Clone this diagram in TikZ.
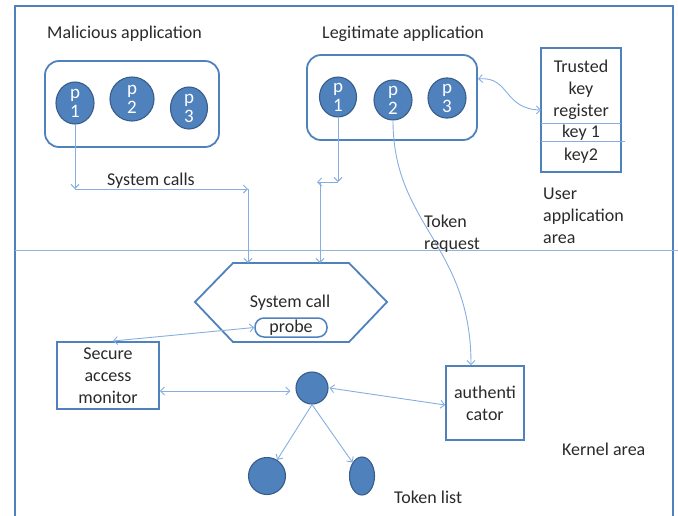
\documentclass[tikz,border=0pt]{standalone}
\usepackage{fontspec}
\setmainfont{Carlito}
\usetikzlibrary{arrows.meta,shapes.geometric}
\definecolor{cfill}{HTML}{4F81BD}
\definecolor{cborder}{HTML}{385D8A}
\definecolor{boxline}{HTML}{4F81BD}
\definecolor{connc}{HTML}{86AEE0}
\definecolor{divc}{HTML}{95B3D7}
\definecolor{txt}{HTML}{2A2A2A}
\tikzset{
  every node/.style={text=txt,font=\fontsize{18}{22}\selectfont},
  proc/.style={ellipse,fill=cfill,draw=cborder,line width=1.1pt,inner sep=0pt,
    text=white,align=center,font=\fontsize{19}{19}\selectfont},
  appbox/.style={draw=boxline,line width=1.8pt,rounded corners=14pt},
  sqbox/.style={draw=boxline,line width=1.8pt,align=center,inner sep=0pt},
  conn/.style={draw=connc,line width=0.9pt},
  tip/.style={-{Straight Barb[length=4pt,width=8pt]}},
  dtip/.style={{Straight Barb[length=4pt,width=8pt]}-{Straight Barb[length=4pt,width=8pt]}},
  lbl/.style={inner sep=0pt,align=left}
}
\begin{document}
\begin{tikzpicture}[x=1pt,y=-1pt]
\useasboundingbox (0,0) rectangle (678,515);
% frame and divider
\draw[draw=boxline,line width=1.8pt] (15,6) rectangle (673,530);
\draw[draw=divc,line width=1pt] (15,250) -- (678,250);

% application boxes
\node[appbox,minimum width=174pt,minimum height=86pt] (mal) at (132,104) {};
\node[appbox,minimum width=170pt,minimum height=85pt] (leg) at (392,97.5) {};
\node[lbl,anchor=west] (maltxt) at (47,34) {Malicious application};
\node[lbl,anchor=west] (legtxt) at (322,34) {Legitimate application};

% processes
\node[proc,minimum width=38pt,minimum height=42pt] (mp1) at (75,103) {p\\1};
\node[proc,minimum width=44pt,minimum height=44pt] (mp2) at (132,99) {p\\2};
\node[proc,minimum width=37pt,minimum height=42pt] (mp3) at (189,108) {p\\3};
\node[proc,minimum width=37pt,minimum height=38pt] (lp1) at (338,97) {p\\1};
\node[proc,minimum width=38pt,minimum height=35pt] (lp2) at (393,100) {p\\2};
\node[proc,minimum width=38pt,minimum height=37pt] (lp3) at (447,98) {p\\3};

% trusted key register
\node[sqbox,minimum width=80pt,minimum height=124pt] (tkr) at (581,110) {};
\draw[conn] (541,123) -- (621,123);
\draw[conn] (541,141) -- (625,141);
\node[inner sep=0pt,align=center] (tkrtxt) at (581,90) {Trusted\\key\\register};
\node[inner sep=0pt] (k1) at (581,133) {key 1};
\node[inner sep=0pt] (k2) at (581,156) {key2};
\draw[conn,dtip] (478,79) .. controls (510,76) and (503,109) .. (541,110);
\node[lbl,anchor=west] (uaa) at (543,216) {User\\application\\area};

% hexagon
\coordinate (h1) at (195,302);
\coordinate (h2) at (233,263);
\coordinate (h3) at (349,263);
\coordinate (h4) at (387,302);
\coordinate (h5) at (349,342);
\coordinate (h6) at (233,342);
\draw[draw=boxline,line width=1.8pt] (h1) -- (h2) -- (h3) -- (h4) -- (h5) -- (h6) -- cycle;
\node[inner sep=0pt] (hex) at (290,303) {System call};
\node[draw=boxline,line width=1.5pt,rounded corners=9pt,minimum width=72pt,minimum height=19pt,inner sep=0pt] (probe) at (291,327.5) {probe};

% system calls connectors
\coordinate (j1) at (75,189);
\coordinate (j2) at (248,189);
\coordinate (j2b) at (248,263);
\draw[conn,tip] (mp1.south) -- (j1);
\draw[conn,tip] (j1) -- (j2);
\draw[conn,tip] (j2) -- (j2b);
\node[lbl,anchor=west] (sctxt) at (107,181) {System calls};
\coordinate (j3) at (338,182);
\coordinate (j4) at (317,182);
\coordinate (j5) at (320,182);
\coordinate (j5b) at (320,263);
\draw[conn,tip] (lp1.south) -- (j3);
\draw[conn,tip] (j3) -- (j4);
\draw[conn,tip] (j5) -- (j5b);

% kernel nodes
\node[sqbox,minimum width=102pt,minimum height=67pt] (sam) at (108,375.5) {};
\node[inner sep=0pt,align=center] (samtxt) at (108,376) {Secure\\access\\monitor};
\node[sqbox,minimum width=78pt,minimum height=74pt] (auth) at (485,403) {authenti\\cator};
\node[circle,fill=cfill,draw=cborder,line width=1.1pt,minimum size=32pt,inner sep=0pt] (c0) at (312,388) {};
\node[circle,fill=cfill,draw=cborder,line width=1.1pt,minimum size=37pt,inner sep=0pt] (lc) at (267,476) {};
\node[ellipse,fill=cfill,draw=cborder,line width=1.1pt,minimum width=25pt,minimum height=38pt,inner sep=0pt] (rc) at (362,476) {};

\coordinate (samtop) at (113,341);
\draw[conn,dtip] (samtop) -- (probe.west);
\draw[conn,dtip] (sam.east |- 0,391) -- ([xshift=-5pt]c0.west |- 0,391);
\draw[conn,dtip] ([xshift=1pt]c0.east) -- ([yshift=-2pt]auth.west);
\draw[conn,tip] (lp2.south) .. controls (393,225) and (471,245) .. ([xshift=-14pt]auth.north);
\node[lbl,anchor=west] (trq) at (424,234) {Token\\request};
\draw[conn,tip] (c0.south) -- (lc);
\draw[conn,tip] (c0.south) -- (rc);
\node[lbl,anchor=west] (tl) at (394,497) {Token list};
\node[lbl,anchor=west] (ka) at (562,449) {Kernel area};
\end{tikzpicture}
\end{document}
